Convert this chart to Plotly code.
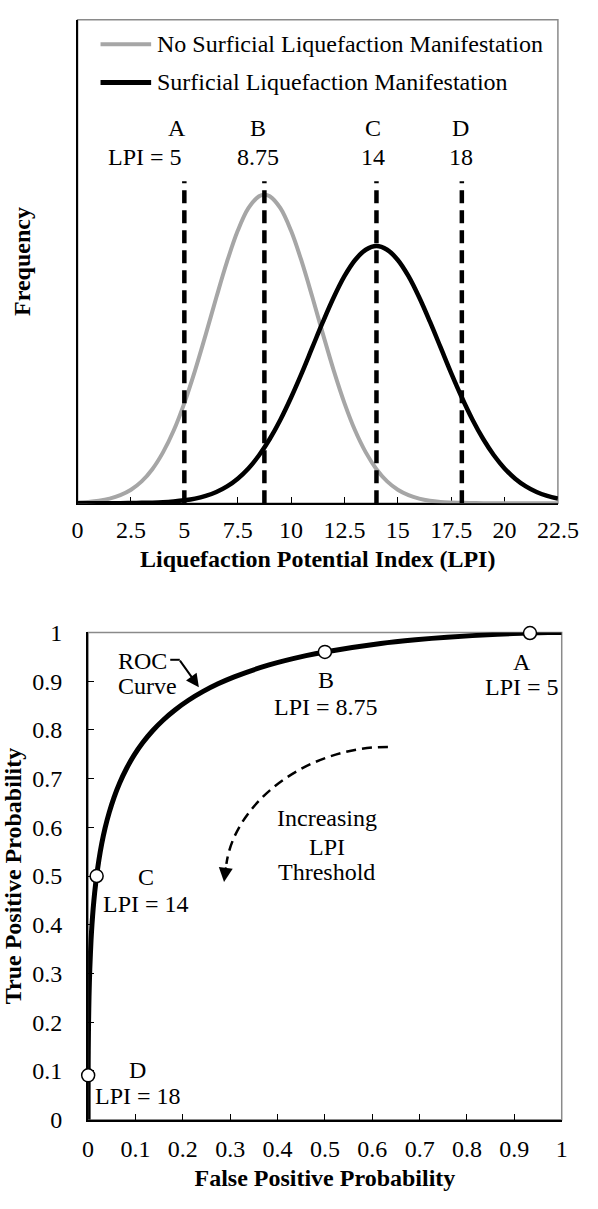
import plotly.graph_objects as go

W, H = 598, 1209
FONT = "Liberation Serif"
FS = 24


def PX(x):
    return x / W


def PY(y):
    return 1 - y / H


# ---------------- DATA ----------------
# Top chart: frequency distributions vs LPI
lpi_no = [0, 0.5, 1, 1.5, 2, 2.5, 3, 3.5, 4, 4.5, 5, 5.5, 6, 6.5, 7, 7.5, 8, 8.5, 8.75,
          9, 9.5, 10, 10.5, 11, 11.5, 12, 12.5, 13, 13.5, 14, 14.5, 15, 15.5, 16, 16.5,
          17, 17.5, 18, 18.5, 19, 19.5, 20, 20.5, 21, 21.5, 22, 22.5]
freq_no = [0.0004, 0.0007, 0.0013, 0.0024, 0.0042, 0.0070, 0.0113, 0.0176, 0.0263, 0.0376,
           0.0518, 0.0686, 0.0872, 0.1065, 0.1249, 0.1409, 0.1526, 0.1588, 0.1596,
           0.1588, 0.1526, 0.1409, 0.1249, 0.1065, 0.0872, 0.0686, 0.0518, 0.0376, 0.0263,
           0.0176, 0.0113, 0.0070, 0.0042, 0.0024, 0.0013, 0.0007, 0.0004, 0.0002, 0.0001,
           0.0, 0.0, 0.0, 0.0, 0.0, 0.0, 0.0, 0.0]

lpi_yes = [0, 0.5, 1, 1.5, 2, 2.5, 3, 3.5, 4, 4.5, 5, 5.5, 6, 6.5, 7, 7.5, 8, 8.5, 9, 9.5,
           10, 10.5, 11, 11.5, 12, 12.5, 13, 13.5, 14, 14.5, 15, 15.5, 16, 16.5, 17, 17.5,
           18, 18.5, 19, 19.5, 20, 20.5, 21, 21.5, 22, 22.5]
freq_yes = [0.0, 0.0, 0.0, 0.0, 0.0, 0.0001, 0.0002, 0.0003, 0.0005, 0.0009, 0.0015, 0.0024,
            0.0038, 0.0058, 0.0087, 0.0127, 0.0180, 0.0248, 0.0332, 0.0432, 0.0547, 0.0673,
            0.0807, 0.0940, 0.1065, 0.1174, 0.1258, 0.1311, 0.1330, 0.1311, 0.1258, 0.1174,
            0.1065, 0.0940, 0.0807, 0.0673, 0.0547, 0.0432, 0.0332, 0.0248, 0.0180, 0.0127,
            0.0087, 0.0058, 0.0038, 0.0024]

series_names = ["No Surficial Liquefaction Manifestation", "Surficial Liquefaction Manifestation"]

thresholds = [5, 8.75, 14, 18]
threshold_letters = ["A", "B", "C", "D"]
threshold_values_top = ["LPI = 5", "8.75", "14", "18"]
threshold_labels_roc = ["LPI = 5", "LPI = 8.75", "LPI = 14", "LPI = 18"]

lpi_ticks = [0, 2.5, 5, 7.5, 10, 12.5, 15, 17.5, 20, 22.5]
lpi_ticktext = ["0", "2.5", "5", "7.5", "10", "12.5", "15", "17.5", "20", "22.5"]

# Bottom chart: ROC curve
roc_fpr = [1.0, 0.9998, 0.9965, 0.9713, 0.9332, 0.8643, 0.7580, 0.6915, 0.6179, 0.5000,
           0.4602, 0.3821, 0.3085, 0.2743, 0.2420, 0.2119, 0.1841, 0.1587, 0.1357, 0.1151,
           0.0968, 0.0808, 0.0668, 0.0548, 0.0446, 0.0359, 0.0287, 0.0228, 0.0179, 0.0139,
           0.0107, 0.0082, 0.0062, 0.0035, 0.0019, 0.0010, 0.0005, 0.0002, 0.0001, 0.0,
           0.0, 0.0, 0.0]
roc_tpr = [1.0, 1.0, 1.0, 0.9996, 0.9987, 0.9962, 0.9902, 0.9849, 0.9773, 0.9599,
           0.9522, 0.9332, 0.9088, 0.8944, 0.8783, 0.8607, 0.8413, 0.8203, 0.7977, 0.7734,
           0.7475, 0.7202, 0.6915, 0.6615, 0.6306, 0.5987, 0.5662, 0.5332, 0.5000, 0.4668,
           0.4338, 0.4013, 0.3694, 0.3085, 0.2525, 0.2023, 0.1587, 0.1217, 0.0912, 0.0478,
           0.0228, 0.0038, 0.0]

roc_pt_fpr = [0.933, 0.5, 0.018, 0.0001]
roc_pt_tpr = [0.9987, 0.96, 0.5, 0.091]

prob_ticks = [0, 0.1, 0.2, 0.3, 0.4, 0.5, 0.6, 0.7, 0.8, 0.9, 1]
prob_ticktext = ["0", "0.1", "0.2", "0.3", "0.4", "0.5", "0.6", "0.7", "0.8", "0.9", "1"]

# ---------------- STYLE ----------------
GRAY = "#a6a6a6"
BORDER = "#8a8a8a"
DASH_TOP = 0.1665  # top of dashed threshold lines (frequency units)

fig = go.Figure()

fig.add_trace(go.Scatter(x=lpi_no, y=freq_no, mode="lines", name=series_names[0],
                         line=dict(color=GRAY, width=4, shape="spline"),
                         xaxis="x", yaxis="y", showlegend=False))
fig.add_trace(go.Scatter(x=lpi_yes, y=freq_yes, mode="lines", name=series_names[1],
                         line=dict(color="black", width=4.5, shape="spline"),
                         xaxis="x", yaxis="y", showlegend=False))
for t in thresholds:
    fig.add_trace(go.Scatter(x=[t, t], y=[0, DASH_TOP], mode="lines",
                             line=dict(color="black", width=4.5, dash="13px,7px"),
                             xaxis="x", yaxis="y", showlegend=False, hoverinfo="skip"))

fig.add_trace(go.Scatter(x=roc_fpr, y=roc_tpr, mode="lines", name="ROC Curve",
                         line=dict(color="black", width=5, shape="spline", smoothing=0.6),
                         xaxis="x2", yaxis="y2", showlegend=False))
fig.add_trace(go.Scatter(x=roc_pt_fpr, y=roc_pt_tpr, mode="markers", name="Thresholds",
                         marker=dict(size=13, color="white", line=dict(color="black", width=1.5)),
                         cliponaxis=False, xaxis="x2", yaxis="y2", showlegend=False))

axis_common = dict(showgrid=False, zeroline=False, showline=True, linecolor="black",
                   ticks="inside", ticklen=6, tickwidth=1, tickcolor="black",
                   tickfont=dict(family=FONT, size=FS, color="black"))

fig.update_layout(
    width=W, height=H, margin=dict(l=0, r=0, t=0, b=0),
    paper_bgcolor="white", plot_bgcolor="white",
    font=dict(family=FONT, size=FS, color="black"),
    xaxis=dict(domain=[PX(75), PX(578)], range=[0, 22.5], anchor="y",
               tickvals=lpi_ticks, ticktext=lpi_ticktext, linewidth=2,
               ticklabelstandoff=4, layer="below traces",
               title=dict(text="<b>Liquefaction Potential Index (LPI)</b>", standoff=8,
                          font=dict(family=FONT, size=FS)),
               **axis_common),
    yaxis=dict(domain=[PY(501), PY(7)], range=[0, 0.25], anchor="x",
               showgrid=False, zeroline=False, showline=True, linecolor="black", linewidth=1.5,
               showticklabels=False, ticks="",
               title=dict(text="<b>Frequency</b>", standoff=38,
                          font=dict(family=FONT, size=FS))),
    xaxis2=dict(domain=[PX(86), PX(582)], range=[0, 1], anchor="y2",
                tickvals=prob_ticks, ticktext=prob_ticktext, linewidth=2,
                ticklabelstandoff=7,
                title=dict(text="<b>False Positive Probability</b>", standoff=8,
                           font=dict(family=FONT, size=FS)),
                **axis_common),
    yaxis2=dict(domain=[PY(1131), PY(633)], range=[0, 1], anchor="x2",
                tickvals=prob_ticks, ticktext=prob_ticktext, linewidth=2,
                ticklabelstandoff=19, layer="below traces",
                title=dict(text="<b>True Positive Probability</b>", standoff=7,
                           font=dict(family=FONT, size=FS)),
                **axis_common),
)

shapes = []
# plot-area borders (gray)
for xr, yr in [("x domain", "y domain"), ("x2 domain", "y2 domain")]:
    shapes.append(dict(type="rect", xref=xr, yref=yr, x0=0, x1=1, y0=0, y1=1,
                       line=dict(color=BORDER, width=1.5), layer="below"))
# manual legend samples
shapes.append(dict(type="line", xref="paper", yref="paper", x0=PX(99), x1=PX(152),
                   y0=PY(32), y1=PY(32), line=dict(color=GRAY, width=4)))
shapes.append(dict(type="line", xref="paper", yref="paper", x0=PX(99), x1=PX(152),
                   y0=PY(71), y1=PY(71), line=dict(color="black", width=5)))
# ROC label pointer (horizontal stub)
shapes.append(dict(type="line", xref="paper", yref="paper", x0=PX(172), x1=PX(182),
                   y0=PY(661), y1=PY(661), line=dict(color="black", width=2)))
# dashed curved arrow ("Increasing LPI Threshold")
shapes.append(dict(type="path", xref="x2", yref="y2",
                   path="M 0.633,0.765 C 0.46,0.765 0.31,0.65 0.292,0.525",
                   line=dict(color="black", width=2.5, dash="10px,6px")))

annotations = []


def txt(text, x, y, xanchor="center"):
    annotations.append(dict(text=text, x=PX(x), y=PY(y), xref="paper", yref="paper",
                            xanchor=xanchor, yanchor="middle", showarrow=False,
                            font=dict(family=FONT, size=FS, color="black")))


# legend texts
txt(series_names[0], 156, 32, xanchor="left")
txt(series_names[1], 156, 71, xanchor="left")

# top threshold labels
letter_px = [179, 264, 384, 476]
value_px = [146, 264, 384, 476]
for lt, vt, lx, vx in zip(threshold_letters, threshold_values_top, letter_px, value_px):
    txt(lt, lx, 118)
    txt(vt, vx, 147)

# ROC point labels
roc_label_pos = [(540, 663, 689), (335, 682, 709), (147, 883, 911), (138, 1080, 1107)]
for lt, vt, (x, y1, y2) in zip(threshold_letters, threshold_labels_roc, roc_label_pos):
    txt(lt, x, y1)
    txt(vt, x, y2)

txt("ROC", 115, 662, xanchor="left")
txt("Curve", 115, 688, xanchor="left")
txt("Increasing", 336, 823)
txt("LPI", 336, 852)
txt("Threshold", 336, 878)

# arrow for ROC label
annotations.append(dict(x=PX(202), y=PY(689), xref="paper", yref="paper", text="",
                        showarrow=True, ax=-20, ay=-28, arrowhead=2, arrowsize=1.3,
                        arrowwidth=2, arrowcolor="black"))
# arrow head for dashed curved arrow
annotations.append(dict(x=0.287, y=0.488, xref="x2", yref="y2", text="",
                        showarrow=True, ax=2, ay=-16, arrowhead=2, arrowsize=1.4,
                        arrowwidth=2, arrowcolor="black"))

fig.update_layout(shapes=shapes, annotations=annotations)

fig.write_html("out.html")
